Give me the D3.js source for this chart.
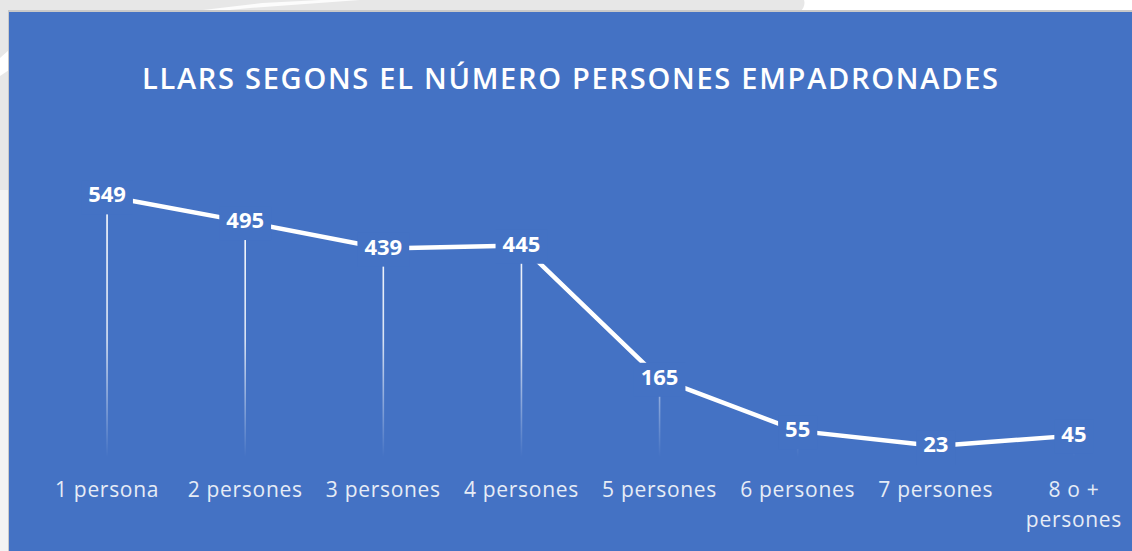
<!DOCTYPE html>
<html>
<head>
<meta charset="utf-8">
<script src="https://cdn.jsdelivr.net/npm/d3@7"></script>
<style>
  html, body { margin: 0; padding: 0; background: #e7e7e7; }
  svg { display: block; }
</style>
</head>
<body>
<div id="chart"></div>
<script>
// chart data
const categories = ['1 persona', '2 persones', '3 persones', '4 persones', '5 persones', '6 persones', '7 persones', '8 o + persones'];
const values = [549, 495, 439, 445, 165, 55, 23, 45];
// wrapped axis labels (one entry per line)
const categoryLines = [['1 persona'], ['2 persones'], ['3 persones'], ['4 persones'], ['5 persones'], ['6 persones'], ['7 persones'], ['8 o +', 'persones']];
const title = 'LLARS SEGONS EL NÚMERO PERSONES EMPADRONADES';

const W = 1132, H = 551;
const panelColor = '#4472c4';

const svg = d3.select('#chart').append('svg')
    .attr('width', W)
    .attr('height', H);

// page background around the chart panel
svg.append('rect').attr('width', W).attr('height', H).attr('fill', '#e7e7e7');
svg.append('path').attr('d', 'M804,0 L1132,0 L1132,12 L800,12 Q806,6 804,0 Z').attr('fill', '#ffffff');
svg.append('path').attr('d', 'M186,12 L262,3 L320,0 L360,0 L250,8 L210,12 Z').attr('fill', '#ffffff').attr('opacity', 0.85);
svg.append('path').attr('d', 'M0,58 L9,50 L9,70 L0,76 Z').attr('fill', '#ffffff');
svg.append('rect').attr('x', 0).attr('y', 190).attr('width', 9).attr('height', H - 190).attr('fill', '#f3f3f3');

// panel with thin grey edge
svg.append('rect').attr('x', 8).attr('y', 10).attr('width', W).attr('height', H).attr('fill', '#c9c9c9');
svg.append('rect').attr('x', 9).attr('y', 12).attr('width', W).attr('height', H).attr('fill', panelColor);

// title
svg.append('text')
    .attr('x', 570)
    .attr('y', 89)
    .attr('text-anchor', 'middle')
    .attr('textLength', 856)
    .attr('lengthAdjust', 'spacing')
    .style('font-family', '"Open Sans", sans-serif')
    .style('font-weight', 600)
    .style('font-size', '29px')
    .attr('fill', '#ffffff')
    .text(title);

// scales
const x = d3.scalePoint()
    .domain(categories)
    .range([38, 1143])
    .padding(0.5);

const y = d3.scaleLinear()
    .domain([0, 600])
    .range([457, 172]);

// gradient for the drop lines: fades out towards the category axis
const defs = svg.append('defs');
const grad = defs.append('linearGradient')
    .attr('id', 'dropfade')
    .attr('gradientUnits', 'userSpaceOnUse')
    .attr('x1', 0).attr('x2', 0)
    .attr('y1', y(549)).attr('y2', y(0));
grad.append('stop').attr('offset', '0%').attr('stop-color', '#ffffff').attr('stop-opacity', 1);
grad.append('stop').attr('offset', '55%').attr('stop-color', '#ffffff').attr('stop-opacity', 0.8);
grad.append('stop').attr('offset', '100%').attr('stop-color', '#ffffff').attr('stop-opacity', 0);

// drop lines
svg.append('g')
    .selectAll('line')
    .data(values)
    .join('line')
    .attr('x1', (d, i) => x(categories[i]))
    .attr('x2', (d, i) => x(categories[i]))
    .attr('y1', d => y(d))
    .attr('y2', y(0))
    .attr('stroke', 'url(#dropfade)')
    .attr('stroke-width', 1.6);

// the line series
const line = d3.line()
    .x((d, i) => x(categories[i]))
    .y(d => y(d));

svg.append('path')
    .datum(values)
    .attr('d', line)
    .attr('fill', 'none')
    .attr('stroke', '#ffffff')
    .attr('stroke-width', 4.5)
    .attr('stroke-linejoin', 'round');

// data labels with panel-coloured background so the line breaks around them
const labels = svg.append('g')
    .selectAll('g')
    .data(values)
    .join('g')
    .attr('transform', (d, i) => `translate(${x(categories[i])},${y(d)})`);

const labelText = labels.append('text')
    .attr('text-anchor', 'middle')
    .attr('dy', '0.28em')
    .style('font-family', '"Open Sans", sans-serif')
    .style('font-weight', 700)
    .style('font-size', '22px')
    .attr('fill', '#ffffff')
    .text(d => d);

labelText.each(function() {
    const bb = this.getBBox();
    d3.select(this.parentNode).insert('rect', 'text')
        .attr('x', bb.x - 7)
        .attr('y', bb.y + 2)
        .attr('width', bb.width + 14)
        .attr('height', bb.height + 4)
        .attr('fill', panelColor);
});

// category axis labels
const catLabels = svg.append('g')
    .selectAll('text')
    .data(categoryLines)
    .join('text')
    .attr('x', (d, i) => x(categories[i]))
    .attr('y', 497)
    .attr('text-anchor', 'middle')
    .style('font-family', '"Open Sans", sans-serif')
    .style('font-size', '21px')
    .style('letter-spacing', '0.7px')
    .attr('fill', '#e6ecf6');

catLabels.selectAll('tspan')
    .data(d => d)
    .join('tspan')
    .attr('x', function() { return d3.select(this.parentNode).attr('x'); })
    .attr('dy', (d, i) => i === 0 ? 0 : 30)
    .text(d => d);
</script>
</body>
</html>
